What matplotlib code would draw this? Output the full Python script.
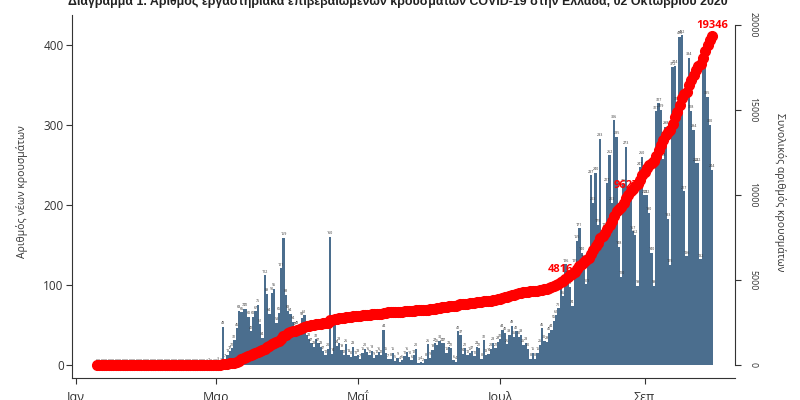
import numpy as np
import matplotlib.pyplot as plt
from matplotlib import font_manager as fm

# ── Data (day index counted from 1 Jan 2020) ──────────────────────────────────
START_DAY = 9

jan_new = [0, 0, 0, 0, 0, 0, 0, 0, 0, 0, 0, 0, 0, 0, 0, 0, 0, 0, 0, 0, 0, 0]
feb_new = [0, 0, 0, 0, 0, 0, 0, 0, 0, 0, 0, 0, 0, 0, 0, 0, 0, 0, 0, 0,
           0, 0, 0, 0, 0, 1, 2, 0, 1]
mar_new = [0, 3, 2, 48, 7, 13, 17, 21, 31, 46, 68, 66, 70, 70, 60, 42,
           60, 67, 75, 51, 34, 112, 89, 64, 90, 95, 53, 65, 121, 159, 88]
apr_new = [68, 64, 54, 47, 48, 40, 59, 62, 38, 33, 27, 23, 32, 27, 23,
           17, 12, 20, 160, 14, 52, 24, 28, 19, 12, 26, 13, 10, 23, 11]
may_new = [13, 7, 15, 20, 16, 12, 18, 9, 12, 16, 12, 44, 15, 7, 8, 15,
           5, 9, 4, 6, 11, 16, 10, 6, 12, 20, 3, 4, 2, 8, 26]
jun_new = [9, 19, 27, 25, 30, 27, 27, 15, 23, 21, 6, 4, 42, 37, 14,
           21, 12, 15, 17, 11, 23, 21, 8, 31, 13, 14, 20, 28, 21, 29]
jul_new = [32, 44, 40, 26, 38, 49, 35, 42, 35, 38, 25, 28, 20, 8, 15, 8,
           15, 25, 46, 30, 29, 40, 44, 55, 62, 71, 95, 86, 126, 110, 98]
aug_new = [74, 125, 155, 171, 140, 130, 101, 126, 237, 203, 240, 175, 283,
           150, 171, 227, 262, 203, 306, 285, 148, 110, 226, 273, 203, 207,
           167, 162, 99, 247, 260]
sep_new = [212, 212, 190, 140, 99, 317, 327, 319, 258, 298, 183, 125, 372,
           374, 328, 410, 412, 217, 136, 384, 318, 294, 252, 252, 132, 378,
           379, 335, 300, 244]

month_ticks = [0, 60, 121, 182, 244]
month_labels = ["Ιαν", "Μαρ", "Μαΐ", "Ιουλ", "Σεπ"]

milestone_days = [208, 236]
milestone_text = ["4816", "9627"]

TITLE = ("Διάγραμμα 1. Αριθμός εργαστηριακά επιβεβαιωμένων κρουσμάτων "
         "COVID-19 στην Ελλάδα, 02 Οκτωβρίου 2020")

daily_new = np.array(jan_new + feb_new + mar_new + apr_new + may_new
                     + jun_new + jul_new + aug_new + sep_new)
days = np.arange(START_DAY, START_DAY + len(daily_new))
cum = np.cumsum(daily_new)

# ── Style ─────────────────────────────────────────────────────────────────────
BAR_COLOR = "#4b6e8e"
TXT = "#333333"
plt.rcParams["font.family"] = ["Open Sans", "DejaVu Sans"]

names = {f.name for f in fm.fontManager.ttflist}
title_family = ("Liberation Sans Narrow" if "Liberation Sans Narrow" in names
                else "Liberation Sans")

fig = plt.figure(figsize=(8, 4), dpi=100)
ax = fig.add_axes([72 / 800, 22 / 400, (735 - 72) / 800, 363 / 400])

ax.bar(days, daily_new, width=1.0, color=BAR_COLOR, linewidth=0, zorder=2)
for d, v in zip(days, daily_new):
    ax.text(d, v + 2, str(v), fontsize=2.6, ha="center", va="bottom",
            color=TXT, zorder=3)

ax.set_xlim(-1.72, 282.8)
ax.set_ylim(-16.25, 437.5)
ax.set_yticks([0, 100, 200, 300, 400])
ax.set_xticks(month_ticks, month_labels)
ax.tick_params(axis="y", length=4.5, width=0.8, color=TXT, labelsize=8.5,
               labelcolor=TXT, pad=1.5)
ax.tick_params(axis="x", length=4.5, width=0.8, color=TXT, labelsize=9,
               labelcolor=TXT, pad=5)
for s in ("top", "right"):
    ax.spines[s].set_visible(False)
for s in ("left", "bottom"):
    ax.spines[s].set_color(TXT)
    ax.spines[s].set_linewidth(0.8)
ax.set_ylabel("Αριθμός νέων κρουσμάτων", fontsize=7.5, color=TXT)
ax.yaxis.set_label_coords((28 - 72) / 663, (378 - 192) / 363)

# cumulative on secondary axis
ax2 = ax.twinx()
ax2.plot(days, cum, color="#ff0000", marker="o", ms=7, lw=4, zorder=5)
ax2.set_ylim(-764.7, 20588)
ax2.set_yticks([0, 5000, 10000, 15000, 20000])
ax2.tick_params(axis="y", length=4.5, width=0.8, color=TXT, labelsize=6.3,
                labelcolor=TXT, pad=5)
for lab in ax2.get_yticklabels():
    lab.set_rotation(-90)
    lab.set_va("center")
for s in ("top", "left", "bottom"):
    ax2.spines[s].set_visible(False)
ax2.spines["right"].set_bounds(0, 20000)
ax2.spines["right"].set_color(TXT)
ax2.spines["right"].set_linewidth(0.8)
ax2.set_ylabel("Συνολικός αριθμός κρουσμάτων", fontsize=7.5, color=TXT,
               rotation=270, va="center")
ax2.yaxis.set_label_coords((780 - 72) / 663, (378 - 192) / 363)

for d, t in zip(milestone_days, milestone_text):
    ax2.annotate(t, (d, cum[d - START_DAY]), xytext=(0, 5),
                 textcoords="offset points", ha="center", va="bottom",
                 color="#ff0000", fontsize=8, fontweight="bold", zorder=3)
ax2.annotate(f"{cum[-1]}", (days[-1], cum[-1]), xytext=(0, 4),
             textcoords="offset points", ha="center", va="bottom",
             color="#ff0000", fontsize=8, fontweight="bold", zorder=3)

fig.text(398 / 800, 1 - 5 / 400, TITLE, ha="center", va="baseline",
         fontsize=8.9, fontweight="bold", family=title_family, color="#222222")

fig.savefig("out.png", dpi=100)
